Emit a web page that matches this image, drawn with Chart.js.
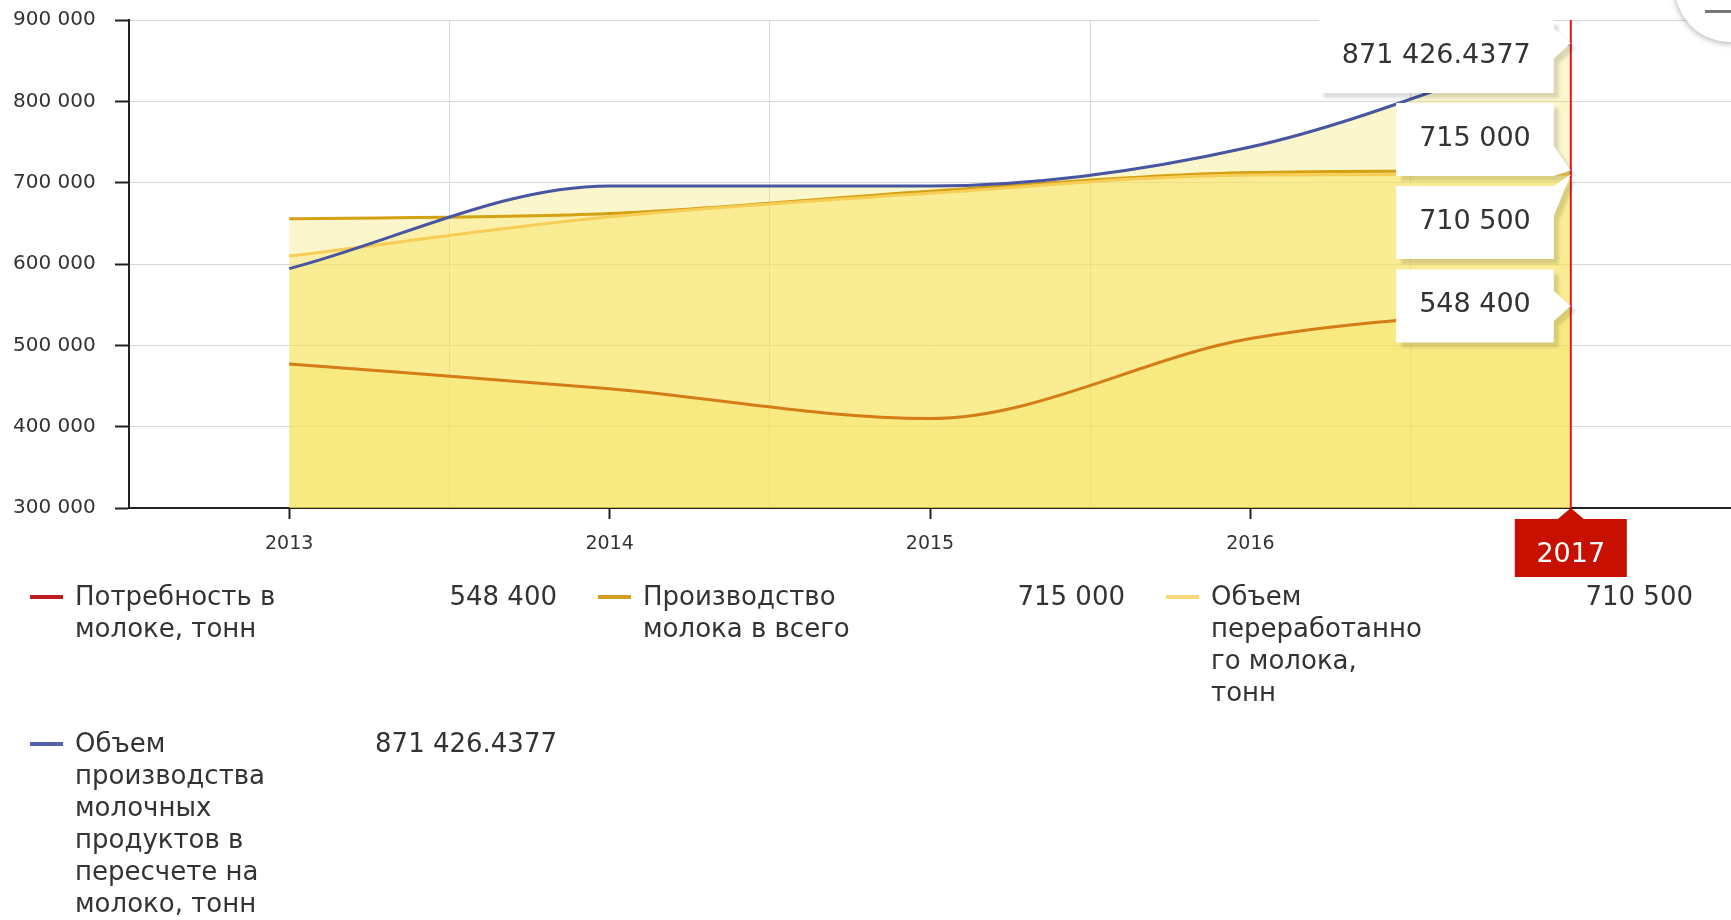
<!DOCTYPE html>
<html>
<head>
<meta charset="utf-8">
<script src="https://cdn.jsdelivr.net/npm/chart.js@4.4.1/dist/chart.umd.min.js"></script>
<style>
html, body { margin: 0; padding: 0; background: #fff; }
body { width: 1731px; height: 920px; position: relative; overflow: hidden;
  font-family: "DejaVu Sans", Verdana, sans-serif; color: #333; }
#wrap { position: absolute; left: 0; top: 0; width: 1731px; height: 585px; }
#legend { position: absolute; left: 30px; top: 580px; display: grid;
  grid-template-columns: repeat(3, 527px); column-gap: 41px; row-gap: 19px; }
.item { position: relative; display: flex; font-size: 26px; line-height: 32px; }
.item .dash { flex: none; width: 33px; height: 4px; margin-top: 15px; margin-right: 12px; }
.item .name { flex: none; width: 214px; overflow-wrap: anywhere; }
.item .val { margin-left: auto; white-space: nowrap; }
#exportBtn { position: absolute; left: 1675px; top: -68px; width: 110px; height: 110px;
  border-radius: 50%; background: #fff; box-shadow: 0 1px 6px rgba(0,0,0,0.35); }
#exportBtn .bar { position: absolute; left: 30px; top: 78px; width: 26px; height: 3px; background: #777; }
</style>
</head>
<body>
<div id="wrap"><canvas id="chart"></canvas></div>
<div id="legend"></div>
<div id="exportBtn"><div class="bar"></div></div>
<script>
// данные
const years = ['2013', '2014', '2015', '2016', '2017'];
const seriesNames = [
  'Потребность в молоке, тонн',
  'Производство молока в всего',
  'Объем переработанного молока, тонн',
  'Объем производства молочных продуктов в пересчете на молоко, тонн'
];
const demand = [477000, 446600, 410000, 508300, 548400];
const milkTotal = [655500, 662000, 689500, 712500, 715000];
const processed = [609700, 658000, 687000, 709500, 710500];
const dairyProducts = [594300, 696000, 695800, 743800, 871426.4377];
const yMin = 300000, yMax = 900000, yStep = 100000;

const lineColors = ['rgb(212,125,22)', 'rgb(212,160,20)', 'rgb(247,205,85)', 'rgb(72,85,160)'];
const legendColors = ['rgb(190,30,35)', 'rgb(210,160,30)', 'rgb(250,215,120)', 'rgb(85,98,170)'];
const fillColor = 'rgba(245,225,88,0.3)';
const FONT = '"DejaVu Sans", Verdana, sans-serif';
Chart.defaults.font.family = FONT;

// 871426.4377 -> "871 426.4377"
function fmt(v) {
  const parts = String(v).split('.');
  parts[0] = parts[0].replace(/\B(?=(\d{3})+(?!\d))/g, ' ');
  return parts.join('.');
}

const seriesData = [demand, milkTotal, processed, dairyProducts];
const hoverIndex = years.length - 1;

// всплывающие подсказки для последнего года (как в amCharts)
const hoverPlugin = {
  id: 'hoverBalloons',
  afterDraw(chart) {
    const ctx = chart.ctx, area = chart.chartArea;
    const px = chart.scales.x.getPixelForValue(hoverIndex);
    ctx.save();
    ctx.strokeStyle = '#e01818';
    ctx.lineWidth = 2;
    ctx.beginPath();
    ctx.moveTo(px, area.top);
    ctx.lineTo(px, area.bottom);
    ctx.stroke();

    const H = 73, GAP = 10, PADX = 23, ARROW = 17, HALF = 15;
    ctx.font = '27px ' + FONT;
    const items = chart.data.datasets.map((ds, i) => ({
      text: fmt(ds.data[hoverIndex]),
      py: chart.getDatasetMeta(i).data[hoverIndex].y
    })).sort((a, b) => a.py - b.py);
    const groups = items.map(it => ({ items: [it], top: it.py - H / 2 }));
    let changed = true;
    while (changed) {
      changed = false;
      if (groups[0].top < area.top) groups[0].top = area.top;
      for (let i = 0; i < groups.length - 1; i++) {
        const g = groups[i], n = groups[i + 1];
        if (g.top + g.items.length * (H + GAP) > n.top) {
          const all = g.items.concat(n.items);
          const mean = all.reduce((s, it) => s + it.py, 0) / all.length;
          groups.splice(i, 2, { items: all, top: mean - (all.length * (H + GAP) - GAP) / 2 });
          changed = true;
          break;
        }
      }
    }
    groups.forEach(g => g.items.forEach((it, k) => {
      const top = g.top + k * (H + GAP), bottom = top + H;
      const w = ctx.measureText(it.text).width + 2 * PADX;
      const right = px - ARROW, left = right - w;
      const cy = Math.min(Math.max(it.py, top + HALF), bottom - HALF);
      ctx.beginPath();
      ctx.moveTo(left, top);
      ctx.lineTo(right, top);
      ctx.lineTo(right, cy - HALF);
      ctx.lineTo(px, it.py);
      ctx.lineTo(right, cy + HALF);
      ctx.lineTo(right, bottom);
      ctx.lineTo(left, bottom);
      ctx.closePath();
      ctx.shadowColor = 'rgba(0,0,0,0.13)';
      ctx.shadowOffsetX = 5;
      ctx.shadowOffsetY = 5;
      ctx.shadowBlur = 3;
      ctx.fillStyle = '#fff';
      ctx.fill();
      ctx.shadowColor = 'transparent';
      ctx.fillStyle = '#333';
      ctx.textAlign = 'center';
      ctx.textBaseline = 'alphabetic';
      ctx.fillText(it.text, (left + right) / 2, (top + bottom) / 2 + 6);
    }));

    // красная метка года под осью
    const lt = area.bottom + 11;
    ctx.fillStyle = '#c81000';
    ctx.beginPath();
    ctx.moveTo(px - 13, lt);
    ctx.lineTo(px, area.bottom);
    ctx.lineTo(px + 13, lt);
    ctx.closePath();
    ctx.fill();
    ctx.fillRect(px - 56, lt, 112, 58);
    ctx.fillStyle = '#fff';
    ctx.fillText(years[hoverIndex], px, lt + 43);
    ctx.restore();
  }
};

const ctx = document.getElementById('chart').getContext('2d');
const chart = new Chart(ctx, {
  type: 'line',
  data: {
    labels: years,
    datasets: seriesData.map((d, i) => ({
      label: seriesNames[i],
      data: d,
      borderColor: lineColors[i],
      backgroundColor: fillColor,
      fill: 'start',
      order: seriesData.length - i // синяя линия сверху
    }))
  },
  options: {
    responsive: true,
    maintainAspectRatio: false,
    animation: false,
    layout: { padding: { top: 0, left: 13, right: 0, bottom: 0 } },
    elements: {
      point: { radius: 0, hoverRadius: 0 },
      line: { cubicInterpolationMode: 'monotone', borderWidth: 3 }
    },
    plugins: {
      legend: { display: false },
      tooltip: { enabled: false },
      filler: { drawTime: 'beforeDatasetsDraw' }
    },
    scales: {
      x: {
        offset: true,
        grid: { offset: false, drawOnChartArea: false, tickLength: 11, tickColor: '#222', tickWidth: 2 },
        border: { color: '#222', width: 2 },
        ticks: { color: '#333', font: { size: 19 }, padding: 14, maxRotation: 0 },
        afterFit: s => { s.height = 77; }
      },
      xGrid: {
        type: 'category',
        labels: years,
        offset: true,
        position: 'bottom',
        grid: { offset: true, color: '#d8d8d8', drawTicks: false },
        ticks: { display: false },
        border: { display: false },
        afterFit: s => { s.height = 0; }
      },
      y: {
        min: yMin,
        max: yMax,
        ticks: { stepSize: yStep, padding: 8, crossAlign: 'far', color: '#333', font: { size: 20 }, callback: v => fmt(v) },
        grid: { color: '#d8d8d8', tickLength: 14, tickColor: '#222', tickWidth: 2 },
        border: { color: '#222', width: 2 },
        afterFit: s => { s.width = 116; }
      }
    }
  },
  plugins: [hoverPlugin]
});

// легенда со значениями последнего года
const legend = document.getElementById('legend');
seriesNames.forEach((name, i) => {
  const item = document.createElement('div');
  item.className = 'item';
  item.innerHTML = '<span class="dash" style="background:' + legendColors[i] + '"></span>' +
    '<span class="name"></span><span class="val"></span>';
  item.querySelector('.name').textContent = name;
  item.querySelector('.val').textContent = fmt(seriesData[i][hoverIndex]);
  legend.appendChild(item);
});
</script>
</body>
</html>
